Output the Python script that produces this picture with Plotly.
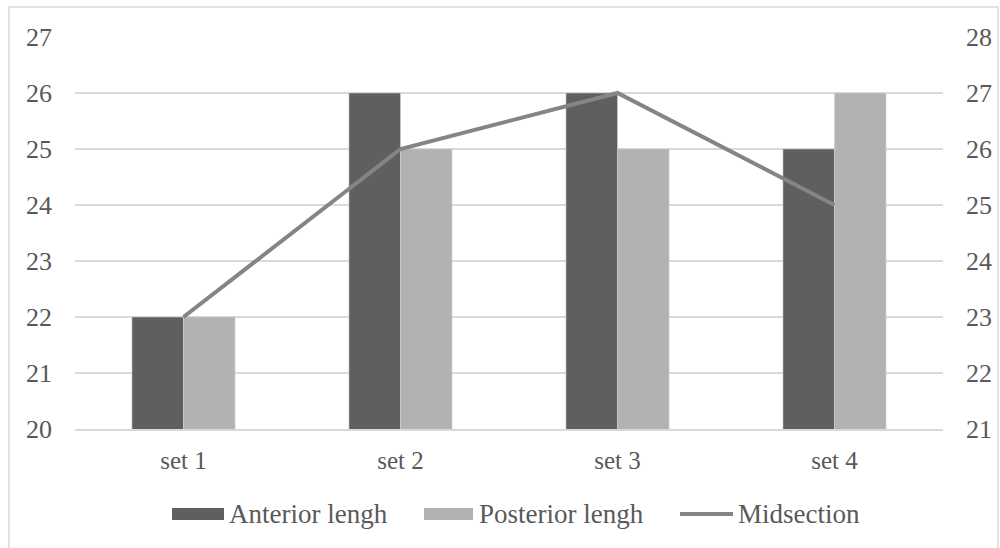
import plotly.graph_objects as go

categories = ["set 1", "set 2", "set 3", "set 4"]
anterior = [22, 26, 26, 25]
posterior = [22, 25, 25, 26]
midsection = [23, 26, 27, 25]
left_ticks = [20, 21, 22, 23, 24, 25, 26, 27]
right_ticks = [21, 22, 23, 24, 25, 26, 27, 28]
series_names = ["Anterior lengh", "Posterior lengh", "Midsection"]

FONT = "Liberation Serif"
C_ANT, C_POST, C_MID = "#5f5f5f", "#b2b2b2", "#858585"
TXT = "#595959"

fig = go.Figure()
fig.add_trace(go.Bar(x=categories, y=anterior, name=series_names[0],
                     marker=dict(color=C_ANT, line=dict(color="#d0d0d0", width=0.6))))
fig.add_trace(go.Bar(x=categories, y=posterior, name=series_names[1],
                     marker=dict(color=C_POST, line=dict(color="#d0d0d0", width=0.6))))
fig.add_trace(go.Scatter(x=categories, y=midsection, name=series_names[2], yaxis="y2",
                         mode="lines", line=dict(color=C_MID, width=4)))

L, R, T, B = 75, 57, 37, 119
W, H = 1000 - L - R, 548 - T - B

def px_x(p):
    return (p - L) / W

def px_y(p):
    return (548 - B - p) / H

shapes = [dict(type="rect", xref="paper", yref="paper",
               x0=px_x(9), x1=px_x(998), y0=px_y(7), y1=px_y(552),
               line=dict(color="#d9d9d9", width=1.5), fillcolor="rgba(0,0,0,0)", layer="below")]

# custom legend (wide swatches like the original)
LEG_Y = 514
shapes.append(dict(type="rect", xref="paper", yref="paper", x0=px_x(172), x1=px_x(224),
                   y0=px_y(520), y1=px_y(508), fillcolor=C_ANT, line=dict(width=0)))
shapes.append(dict(type="rect", xref="paper", yref="paper", x0=px_x(424), x1=px_x(473),
                   y0=px_y(520), y1=px_y(508), fillcolor=C_POST, line=dict(width=0)))
shapes.append(dict(type="line", xref="paper", yref="paper", x0=px_x(680), x1=px_x(733),
                   y0=px_y(LEG_Y), y1=px_y(LEG_Y), line=dict(color=C_MID, width=4)))
annotations = []
for name, xpx in zip(series_names, [227, 477, 736]):
    annotations.append(dict(xref="paper", yref="paper", x=px_x(xpx), y=px_y(LEG_Y),
                            xanchor="left", yanchor="middle", text=name, showarrow=False,
                            font=dict(family=FONT, size=27, color=TXT)))

fig.update_layout(
    width=1000, height=548,
    margin=dict(l=L, r=R, t=T, b=B, autoexpand=False),
    paper_bgcolor="white", plot_bgcolor="white",
    font=dict(family=FONT, size=25, color=TXT),
    barmode="group", bargap=0.525, bargroupgap=0,
    xaxis=dict(showgrid=False, showline=True, linecolor="#d9d9d9", linewidth=1.5,
               ticks="", ticklabelstandoff=8, tickfont=dict(size=25), automargin=False),
    yaxis=dict(range=[20, 27], tickvals=left_ticks, showgrid=True, gridcolor="#d9d9d9",
               gridwidth=1.5, zeroline=False, ticks="", ticklabelstandoff=22,
               tickfont=dict(size=26), automargin=False),
    yaxis2=dict(range=[21, 28], tickvals=right_ticks, overlaying="y", side="right",
                showgrid=False, zeroline=False, ticks="", ticklabelstandoff=22,
                tickfont=dict(size=26), automargin=False),
    showlegend=False,
    shapes=shapes,
    annotations=annotations,
)

fig.write_html("out.html")
